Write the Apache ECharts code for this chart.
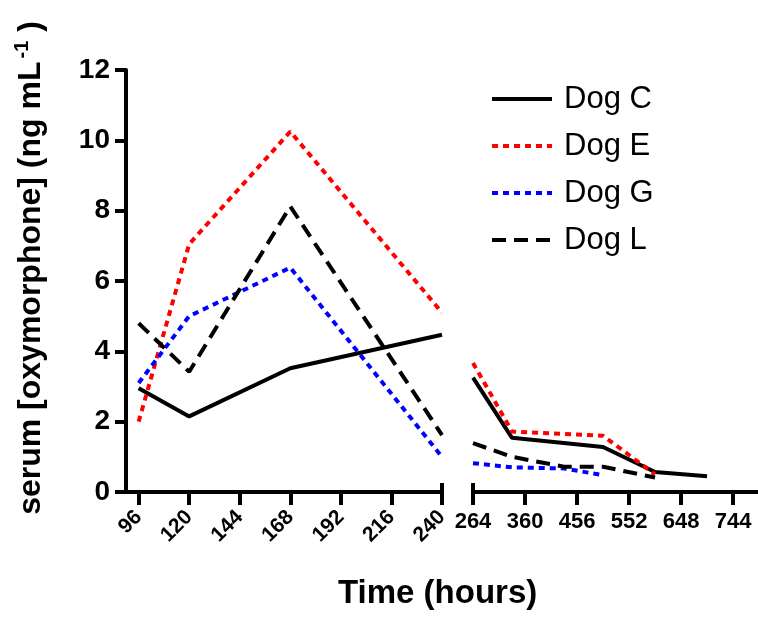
<!DOCTYPE html>
<html>
<head>
<meta charset="utf-8">
<script src="https://cdn.jsdelivr.net/npm/echarts@6/dist/echarts.min.js"></script>
<style>html,body{margin:0;padding:0;background:#fff;}#c{width:758px;height:618px;}</style>
</head>
<body>
<div id="c"></div>
<script>
// ---- data ----
const leftTicks = [96, 120, 144, 168, 192, 216, 240];
const rightTicks = [264, 360, 456, 552, 648, 744];
const yTicks = [0, 2, 4, 6, 8, 10, 12];

const leftTimes = [96, 120, 168, 240];
const dogC_left = [2.95, 2.15, 3.52, 4.47];
const dogE_left = [2.0, 7.05, 10.25, 5.1];
const dogG_left = [3.1, 5.0, 6.38, 1.0];
const dogL_left = [4.8, 3.42, 8.12, 1.62];

const dogC_rightTimes = [264, 336, 504, 600, 696];
const dogC_right = [3.25, 1.54, 1.28, 0.57, 0.45];
const dogE_rightTimes = [264, 336, 504, 600];
const dogE_right = [3.67, 1.72, 1.6, 0.5];
const dogG_rightTimes = [264, 336, 432, 504];
const dogG_right = [0.82, 0.7, 0.67, 0.48];
const dogL_rightTimes = [264, 336, 432, 504, 600];
const dogL_right = [1.39, 1.0, 0.72, 0.72, 0.41];

const names = ['Dog C', 'Dog E', 'Dog G', 'Dog L'];
// ---- end data ----

const FONT = "'Liberation Sans', Arial, sans-serif";
const zip = (xs, ys) => xs.map((x, i) => [x, ys[i]]);

const styles = {
  'Dog C': { color: '#000000', width: 4, type: 'solid' },
  'Dog E': { color: '#ff0000', width: 4, type: [6, 5] },
  'Dog G': { color: '#0000ff', width: 4, type: [6, 5] },
  'Dog L': { color: '#000000', width: 4, type: [14, 8] }
};

function mk(name, grid, data) {
  const s = styles[name];
  return {
    name: name, type: 'line', xAxisIndex: grid, yAxisIndex: grid,
    data: data, symbol: 'none', showSymbol: false,
    lineStyle: { color: s.color, width: s.width, type: s.type },
    itemStyle: { color: s.color, opacity: 0 },
    z: 3
  };
}

const series = [
  mk('Dog C', 0, zip(leftTimes, dogC_left)),
  mk('Dog E', 0, zip(leftTimes, dogE_left)),
  mk('Dog G', 0, zip(leftTimes, dogG_left)),
  mk('Dog L', 0, zip(leftTimes, dogL_left)),
  mk('Dog C', 1, zip(dogC_rightTimes, dogC_right)),
  mk('Dog E', 1, zip(dogE_rightTimes, dogE_right)),
  mk('Dog G', 1, zip(dogG_rightTimes, dogG_right)),
  mk('Dog L', 1, zip(dogL_rightTimes, dogL_right))
];

const axisLineStyle = { color: '#000', width: 4 };
const tickLabel = { color: '#000', fontWeight: 'bold', fontFamily: FONT };

const option = {
  animation: false,
  backgroundColor: '#fff',
  textStyle: { fontFamily: FONT },
  title: {
    text: 'Time (hours)', left: 333, top: 572,
    textStyle: { fontSize: 33, fontWeight: 'bold', color: '#000', fontFamily: FONT }
  },
  legend: {
    data: names, orient: 'vertical', left: 490, top: 81,
    itemWidth: 60, itemHeight: 14, itemGap: 11, padding: 0,
    itemStyle: { opacity: 0 },
    lineStyle: { width: 4 },
    textStyle: { fontSize: 31, color: '#000', fontFamily: FONT, lineHeight: 36, padding: [0, 0, 0, 7] }
  },
  grid: [
    { left: 126, top: 70, width: 316, height: 422 },
    { left: 473, top: 70, width: 290, height: 422 }
  ],
  xAxis: [
    {
      gridIndex: 0, type: 'value', min: 90, max: 240, position: 'bottom',
      axisLine: { show: true, lineStyle: axisLineStyle },
      axisTick: { show: true, customValues: leftTicks, length: 13, lineStyle: axisLineStyle },
      axisLabel: Object.assign({ customValues: leftTicks, rotate: 45, fontSize: 21, margin: 22 }, tickLabel),
      splitLine: { show: false }
    },
    {
      gridIndex: 1, type: 'value', min: 264, max: 790, position: 'bottom',
      axisLine: { show: true, lineStyle: axisLineStyle },
      axisTick: { show: true, customValues: rightTicks, length: 13, lineStyle: axisLineStyle },
      axisLabel: Object.assign({ customValues: rightTicks, fontSize: 22, margin: 19 }, tickLabel),
      splitLine: { show: false }
    },
    {
      gridIndex: 0, type: 'value', min: 90, max: 240, position: 'bottom', offset: 0,
      axisLine: { show: false },
      axisTick: { show: true, inside: true, customValues: [240], length: 9, lineStyle: axisLineStyle },
      axisLabel: { show: false }, splitLine: { show: false }
    },
    {
      gridIndex: 1, type: 'value', min: 264, max: 790, position: 'bottom', offset: 0,
      axisLine: { show: false },
      axisTick: { show: true, inside: true, customValues: [264], length: 9, lineStyle: axisLineStyle },
      axisLabel: { show: false }, splitLine: { show: false }
    }
  ],
  yAxis: [
    {
      gridIndex: 0, type: 'value', min: 0, max: 12, interval: 2,
      axisLine: { show: true, lineStyle: axisLineStyle },
      axisTick: { show: true, length: 11, lineStyle: axisLineStyle },
      axisLabel: Object.assign({ fontSize: 28, margin: 16 }, tickLabel),
      splitLine: { show: false },
      name: '{a|serum [oxymorphone] (ng mL}{s|-1}{a| )}',
      nameLocation: 'middle', nameRotate: 90, nameGap: 76,
      nameTextStyle: {
        color: '#000', fontFamily: FONT, padding: [0, 0, 0, 26],
        rich: {
          a: { fontSize: 32, fontWeight: 'bold', color: '#000', fontFamily: FONT },
          s: { fontSize: 20, fontWeight: 'bold', color: '#000', fontFamily: FONT, padding: [0, 0, 18, 3] }
        }
      }
    },
    {
      gridIndex: 1, type: 'value', min: 0, max: 12, interval: 2, show: false
    }
  ],
  series: series
};

const chart = echarts.init(document.getElementById('c'), null, { renderer: 'canvas' });
chart.setOption(option);
</script>
</body>
</html>
